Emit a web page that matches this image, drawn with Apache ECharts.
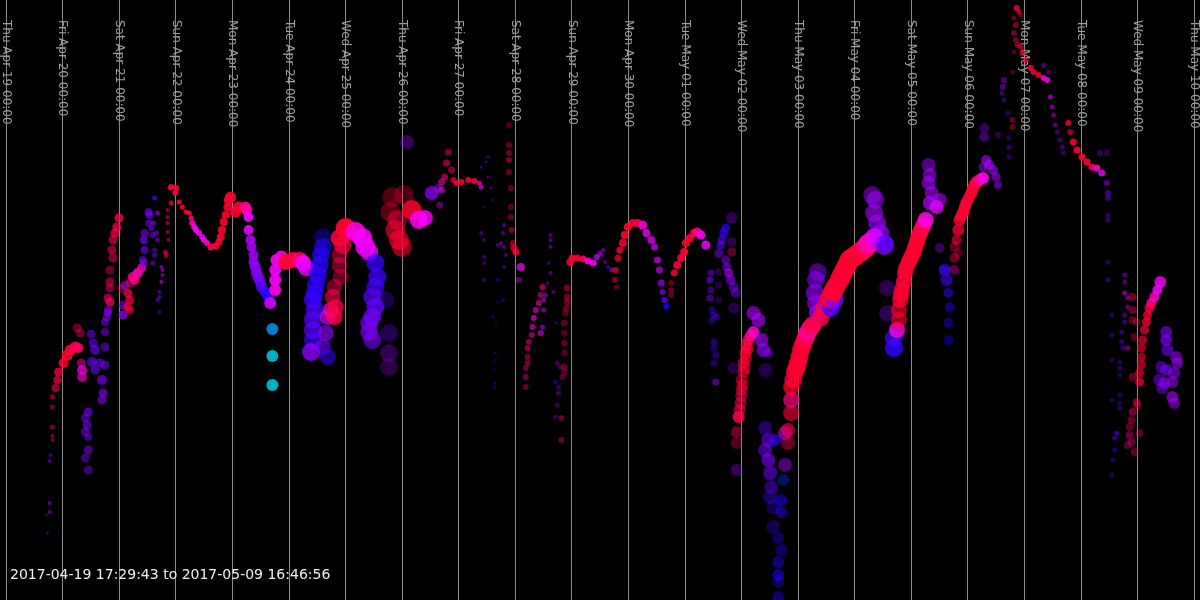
<!DOCTYPE html>
<html>
<head>
<meta charset="utf-8">
<script src="https://cdn.jsdelivr.net/npm/echarts@6/dist/echarts.min.js"></script>
<style>html,body{margin:0;padding:0;background:#000;}#chart{width:1200px;height:600px;}</style>
</head>
<body>
<div id="chart"></div>
<script>
// Each point: [hoursSinceApr19, depth, hue, volume, confidence]
const apr19 = [[17.2,515,285,3,0.35],[17.6,533,280,3,0.4],[18.5,512,290,4,0.45],[18.5,503,290,4,0.45],[18.5,461,270,4,0.5],[18.9,455,270,4,0.5],[19.7,440,345,4,0.45],[19.7,436,345,4,0.45],[19.7,427,345,5,0.45],[19.7,407,345,5,0.45],[19.7,397,345,5,0.5],[21.0,388,350,8,0.6],[21.8,380,350,8,0.7],[22.3,372,352,9,0.75],[24.4,363,355,10,0.85],[26.0,355,355,11,0.9],[27.3,350,355,11,0.9],[29.4,347,350,11,0.9],[30.7,348,345,10,0.85]];
const apr20 = [[30.2,328,345,9,0.4],[31.5,333,345,9,0.4],[31.9,363,330,9,0.5],[32.3,370,320,10,0.7],[32.3,377,325,10,0.65],[33.6,418,270,9,0.5],[34.4,425,272,9,0.55],[33.6,432,272,9,0.5],[34.9,412,268,9,0.6],[34.9,437,270,8,0.45],[34.9,450,272,9,0.5],[33.6,458,272,9,0.45],[34.9,470,272,9,0.45],[36.1,334,262,9,0.55],[37.0,343,262,9,0.6],[37.8,350,265,10,0.6],[36.5,362,262,10,0.65],[39.9,363,268,9,0.55],[37.8,370,265,9,0.6],[40.7,380,272,10,0.65],[42.0,365,270,9,0.5],[42.0,347,268,9,0.5],[42.0,332,268,8,0.5],[42.0,322,270,8,0.55],[43.3,313,272,8,0.6],[41.2,393,275,9,0.6],[40.7,400,275,9,0.55],[42.8,317,272,8,0.5],[43.3,310,275,8,0.55],[43.3,298,345,9,0.55],[44.1,302,345,9,0.7],[44.1,288,345,9,0.45],[44.1,282,345,9,0.5],[44.1,270,345,9,0.4],[45.4,258,348,9,0.5],[44.9,250,348,9,0.55],[45.4,240,350,9,0.6],[46.2,233,350,9,0.7],[47.0,227,350,9,0.75],[47.9,218,350,9,0.8]];
const apr21 = [[49.1,288,350,9,0.45],[49.6,305,275,9,0.55],[49.6,315,280,9,0.7],[50.4,285,275,9,0.5],[51.7,293,350,9,0.7],[52.5,300,352,9,0.7],[51.7,307,352,9,0.65],[52.5,310,352,9,0.55],[52.5,283,345,9,0.5],[53.8,277,340,10,0.85],[54.6,280,338,10,0.8],[55.9,273,330,10,0.85],[57.5,268,332,9,0.8],[58.8,233,268,8,0.6],[58.4,240,268,8,0.65],[58.8,250,268,8,0.6],[58.0,260,270,8,0.55],[58.4,263,272,8,0.55],[60.5,212,268,8,0.6],[60.9,215,268,8,0.6],[60.5,223,265,7,0.6],[61.7,228,265,6,0.6],[62.2,235,270,6,0.55],[62.6,223,285,5,0.55],[63.0,198,255,5,0.7],[63.0,250,265,5,0.5],[63.0,255,270,5,0.5],[62.2,263,272,5,0.5],[63.8,233,272,5,0.55],[64.3,240,275,5,0.5],[64.3,213,280,5,0.6],[65.9,267,280,4,0.6],[66.4,270,290,4,0.6],[66.4,275,290,4,0.55],[65.9,282,300,4,0.6],[65.1,292,270,4,0.55],[65.1,297,272,4,0.55],[64.3,300,268,4,0.55],[65.1,312,260,4,0.45],[68.5,210,350,4,0.55],[68.5,217,350,4,0.55],[68.5,223,350,4,0.55],[68.5,232,350,4,0.55],[68.9,240,345,4,0.5],[67.6,252,345,5,0.55],[68.0,255,345,5,0.6],[69.7,188,352,5,0.7],[70.1,203,352,5,0.7]];
const apr22 = [[70.1,187,355,6,0.9],[71.8,193,355,6,0.9],[72.2,188,355,6,0.9],[73.5,202,355,5,0.9],[74.8,207,355,5,0.9],[76.4,212,355,5,0.9],[77.7,213,350,5,0.9],[78.5,218,345,5,0.9],[79.0,223,330,6,0.9],[79.8,227,320,6,0.9],[80.6,230,315,6,0.9],[81.9,233,310,6,0.9],[83.2,237,305,6,0.9],[84.0,240,310,6,0.9],[85.3,243,330,6,0.9],[86.9,247,350,7,0.9],[89.0,246,355,7,0.9],[90.3,242,355,7,0.9],[91.1,237,355,8,0.9],[91.6,230,355,8,0.9],[92.4,222,355,8,0.9],[93.2,215,355,8,0.9],[94.1,207,355,9,0.9],[94.5,200,355,10,0.9],[95.3,197,355,11,0.9]];
const apr23 = [[97.4,212,355,11,0.9],[98.7,207,355,11,0.9],[101.6,207,340,11,0.9],[102.1,210,330,11,0.9],[102.9,217,310,10,0.9],[102.9,230,305,10,0.9],[103.7,240,290,10,0.85],[104.2,247,285,10,0.85],[105.0,255,282,10,0.85],[105.0,262,280,10,0.85],[105.8,267,278,11,0.85],[106.3,273,275,11,0.85],[107.1,278,270,11,0.85],[107.9,282,265,11,0.85],[108.4,287,255,11,0.85],[110.0,292,245,11,0.9],[111.3,297,240,11,0.9],[112.1,303,300,12,0.9],[114.2,290,320,12,0.9],[114.2,280,315,12,0.9],[114.2,270,312,12,0.9],[114.7,260,315,12,0.9],[116.8,257,320,13,0.9],[113.0,329,195,12,0.9],[113.0,356,183,12,0.9],[113.0,385,183,12,0.9]];
const apr24 = [[118.9,262,355,16,0.95],[121.8,260,352,16,0.95],[124.7,260,345,16,0.9],[126.0,263,315,16,0.9],[127.3,268,305,16,0.85],[134.4,237,240,18,0.35],[134.4,247,238,18,0.6],[133.6,255,240,18,0.7],[133.1,265,240,18,0.75],[132.3,275,242,18,0.8],[131.5,285,240,18,0.75],[131.0,293,242,18,0.75],[130.2,300,245,18,0.75],[131.0,310,250,18,0.75],[130.2,320,255,18,0.7],[130.2,330,258,18,0.7],[130.2,340,250,18,0.65],[129.4,352,275,18,0.8],[134.4,347,265,16,0.6],[136.5,357,245,16,0.55],[135.7,333,275,16,0.65],[136.5,317,300,16,0.65],[137.8,310,330,16,0.7],[139.4,317,350,16,0.8],[139.9,307,352,16,0.75],[138.6,297,350,16,0.6],[139.4,287,350,16,0.45],[141.5,265,350,16,0.45],[141.5,255,350,16,0.45],[142.0,277,348,16,0.4],[141.5,238,355,18,0.85],[142.8,245,352,18,0.7],[144.1,228,355,20,0.95]];
const apr25 = [[148.3,232,320,20,0.9],[151.2,238,315,20,0.85],[152.5,247,310,20,0.85],[154.1,252,305,18,0.8],[156.7,263,245,18,0.75],[157.5,277,248,18,0.75],[156.7,287,250,18,0.7],[155.4,297,255,18,0.7],[156.7,307,260,18,0.75],[155.4,317,265,18,0.7],[154.1,323,268,18,0.65],[154.1,332,270,18,0.65],[155.4,340,268,18,0.6],[160.9,300,255,18,0.3],[162.5,333,265,18,0.3],[162.5,353,280,18,0.3],[162.5,367,285,18,0.25],[163.8,197,355,20,0.3],[168.8,195,355,20,0.3],[163.0,212,355,20,0.35],[165.9,220,352,20,0.45],[165.1,230,355,20,0.6],[166.7,240,355,20,0.65],[168.0,247,355,20,0.55]];
const apr26 = [[170.1,142,280,14,0.35],[172.2,210,355,20,0.85],[175.1,220,318,18,0.85],[177.7,218,315,16,0.8],[180.6,193,275,14,0.75],[183.5,188,280,8,0.55],[184.0,205,320,7,0.35],[184.8,190,320,7,0.5],[184.8,182,330,7,0.55],[186.1,177,340,7,0.55],[186.9,163,345,7,0.55],[187.7,152,350,7,0.5],[189.0,170,350,7,0.5],[189.8,180,355,6,0.7],[191.1,183,355,6,0.85],[193.2,182,355,6,0.85],[196.1,180,355,6,0.85],[198.7,181,350,6,0.85],[200.8,183,340,5,0.8],[201.6,187,300,5,0.75]];
const apr27 = [[204.5,157,270,3,0.45],[203.7,162,270,3,0.4],[201.6,167,270,3,0.4],[204.5,177,268,3,0.45],[205.8,188,265,3,0.4],[206.6,200,262,3,0.4],[202.9,207,262,3,0.35],[201.6,233,275,4,0.45],[202.9,240,275,4,0.4],[202.9,257,270,4,0.45],[202.9,263,270,4,0.4],[202.9,280,270,4,0.45],[211.3,225,275,4,0.5],[210.8,233,280,4,0.5],[210.0,243,280,4,0.55],[208.7,245,275,4,0.45],[211.3,247,280,4,0.5],[212.1,255,275,4,0.45],[211.3,267,265,4,0.45],[208.7,280,255,4,0.4],[210.8,300,250,4,0.4],[208.7,302,255,3,0.35],[206.6,317,250,3,0.35],[207.9,323,245,3,0.35],[207.5,353,240,3,0.4],[207.5,360,240,3,0.35],[207.1,370,245,3,0.35],[207.5,383,245,3,0.4],[207.5,387,245,3,0.4],[213.4,125,350,6,0.3],[213.4,145,350,6,0.4],[213.4,153,350,6,0.45],[213.4,160,350,6,0.5],[213.4,172,350,6,0.4],[214.2,188,350,6,0.35],[214.2,207,350,6,0.35],[214.2,217,350,6,0.4],[214.6,230,350,6,0.45],[215.0,243,352,6,0.55],[215.5,248,355,7,0.7],[216.3,252,355,7,0.8]];
const apr28 = [[218.4,267,310,8,0.75],[217.6,280,305,6,0.4],[220.5,387,345,6,0.4],[220.5,377,330,6,0.4],[220.5,368,340,6,0.4],[221.3,363,345,6,0.45],[221.3,357,345,6,0.45],[221.3,348,340,6,0.5],[221.8,342,340,6,0.5],[223.0,335,335,6,0.55],[223.4,327,325,6,0.6],[223.9,318,320,6,0.65],[224.7,310,325,6,0.6],[226.0,303,330,6,0.6],[226.8,295,335,6,0.55],[227.6,287,340,6,0.6],[226.8,333,315,6,0.55],[227.6,327,305,5,0.5],[228.1,310,300,5,0.5],[228.1,300,305,5,0.5],[228.9,295,295,5,0.45],[229.7,283,280,4,0.4],[230.2,263,270,4,0.4],[231.0,273,290,4,0.45],[231.0,247,285,4,0.5],[231.0,240,285,4,0.5],[231.0,235,285,4,0.45],[232.3,292,290,4,0.4],[233.5,323,265,4,0.3],[233.1,382,270,5,0.3],[233.9,363,290,5,0.3],[235.2,367,300,5,0.3],[234.4,387,280,5,0.35],[234.4,393,290,5,0.35],[233.9,405,280,5,0.35],[233.1,417,275,5,0.3],[235.6,418,340,6,0.4],[235.6,440,345,6,0.4],[236.0,377,330,6,0.3],[236.9,372,345,7,0.3],[236.9,367,345,7,0.35],[236.9,353,345,7,0.3],[236.9,343,348,7,0.35],[236.9,333,348,7,0.3],[236.9,323,350,7,0.35],[237.3,313,350,7,0.3],[237.7,308,350,7,0.35],[238.1,302,350,7,0.4],[238.1,297,350,7,0.4],[238.1,288,350,7,0.45]];
const apr29 = [[239.4,262,355,8,0.85],[240.2,258,355,7,0.9],[242.3,258,355,7,0.9],[244.9,259,345,7,0.9],[247.0,261,325,7,0.9],[249.1,263,315,7,0.85],[250.7,257,300,6,0.75],[252.0,253,290,5,0.6],[253.3,250,285,4,0.55],[252.8,255,280,4,0.5],[254.1,262,275,4,0.5],[255.4,267,270,4,0.45],[257.0,270,300,5,0.5],[258.3,280,350,6,0.45],[259.1,287,350,5,0.4],[258.7,270,355,6,0.7],[259.6,258,355,7,0.7],[260.4,250,355,7,0.8],[261.7,243,355,8,0.85],[262.5,235,355,8,0.9]];
const apr30 = [[263.8,227,355,8,0.9],[265.9,223,355,8,0.9],[268.0,223,352,8,0.9],[270.1,225,320,9,0.85],[271.7,233,310,8,0.8],[273.8,240,305,8,0.75],[275.1,247,300,7,0.75],[276.4,260,300,7,0.7],[277.2,270,295,7,0.65],[278.0,283,285,7,0.65],[278.5,292,275,6,0.65],[279.3,300,262,6,0.7],[280.1,306,235,6,0.85],[282.2,283,350,6,0.4],[282.2,290,350,6,0.4],[282.2,295,350,6,0.35],[283.5,273,355,7,0.85],[284.8,265,355,8,0.9],[286.4,258,355,8,0.9]];
const may01 = [[287.7,252,355,8,0.9],[288.5,243,355,8,0.9],[290.2,238,355,8,0.9],[291.9,233,352,8,0.9],[293.2,232,335,9,0.9],[294.8,235,318,9,0.9],[296.9,245,310,9,0.85],[299.0,273,268,7,0.5],[298.6,280,272,7,0.55],[299.0,290,265,7,0.45],[298.6,298,268,7,0.5],[302.4,272,280,7,0.25],[302.4,285,270,7,0.25],[302.4,300,270,7,0.25],[299.5,310,250,7,0.4],[300.3,315,250,7,0.45],[299.5,320,255,7,0.4],[301.6,317,265,7,0.3],[300.3,342,250,7,0.4],[300.3,348,245,7,0.4],[301.1,355,250,7,0.4],[300.3,363,250,7,0.35],[301.1,382,280,7,0.5],[307.9,218,275,12,0.3],[305.3,228,240,9,0.7],[304.5,233,245,9,0.65],[303.7,240,255,9,0.55],[303.2,245,265,9,0.5],[302.4,253,270,9,0.5],[307.9,242,275,9,0.3],[307.9,252,345,9,0.35],[305.3,260,272,9,0.5],[305.8,267,275,9,0.55],[306.6,273,290,9,0.6],[307.4,280,275,10,0.55],[308.7,287,270,10,0.5],[309.5,293,268,10,0.45],[308.7,308,265,11,0.3],[308.7,368,270,12,0.25]];
const may02 = [[310.0,470,280,12,0.35],[310.0,443,348,12,0.3],[310.0,432,350,12,0.4],[310.8,417,350,12,0.85],[311.2,410,352,12,0.6],[311.6,403,350,12,0.55],[311.9,396,352,12,0.5],[312.1,390,352,12,0.5],[312.5,385,355,12,0.5],[312.1,380,355,12,0.5],[312.9,372,355,12,0.55],[313.3,368,355,12,0.55],[312.9,363,355,12,0.6],[313.9,358,355,12,0.6],[313.7,353,355,12,0.65],[314.6,349,352,12,0.65],[314.2,345,352,12,0.7],[315.0,340,350,12,0.75],[316.0,336,340,12,0.8],[317.1,332,325,12,0.85],[317.1,313,290,14,0.6],[319.2,320,285,14,0.65],[320.5,340,282,14,0.65],[321.3,350,280,14,0.6],[322.1,370,265,14,0.3],[323.4,353,280,10,0.4],[322.1,428,255,14,0.4],[323.4,440,265,14,0.55],[326.3,440,245,12,0.6],[322.1,450,265,14,0.55],[323.4,460,270,14,0.6],[324.2,473,265,14,0.55],[324.7,487,255,14,0.45],[324.2,497,250,14,0.35],[325.5,507,245,14,0.3],[325.5,527,250,14,0.3],[327.6,538,240,12,0.35],[328.9,550,238,12,0.4],[327.6,562,238,12,0.45],[327.6,575,236,12,0.55],[327.6,582,238,12,0.35],[327.6,597,240,12,0.4],[329.7,480,215,12,0.4],[328.9,500,235,12,0.5],[328.9,512,240,12,0.45],[330.5,433,300,14,0.55],[330.5,465,285,14,0.45],[331.8,443,350,14,0.4],[331.8,430,352,14,0.6],[333.1,413,352,16,0.6],[333.1,400,340,16,0.7],[333.1,387,355,16,0.75]];
const may03 = [[334.0,380,355,18,0.75],[334.7,372,355,18,0.8],[335.3,368,355,18,0.8],[336.0,363,355,18,0.85],[336.6,357,355,18,0.85],[337.3,350,355,18,0.85],[338.0,345,355,18,0.85],[338.9,340,352,18,0.85],[339.5,336,345,18,0.85],[340.2,332,335,18,0.85],[341.2,328,340,18,0.85],[342.3,325,350,18,0.85],[343.6,280,275,18,0.55],[344.4,272,275,18,0.5],[343.1,293,278,18,0.6],[343.6,303,280,18,0.6],[344.4,313,285,18,0.7],[345.5,318,350,18,0.8],[347.5,308,352,20,0.8],[349.9,308,250,18,0.8],[349.5,298,355,20,0.85],[351.5,300,270,18,0.75],[350.8,292,355,20,0.85],[351.9,287,355,20,0.85],[353.6,280,355,20,0.85],[354.6,275,355,20,0.85],[355.7,270,355,20,0.85],[356.8,265,355,20,0.9],[357.8,260,355,20,0.9]];
const may04 = [[358.9,258,355,20,0.9],[359.9,257,355,20,0.9],[361.2,254,355,20,0.9],[362.5,252,355,20,0.9],[363.6,250,352,20,0.9],[364.6,248,350,20,0.9],[365.4,245,340,20,0.9],[366.2,243,330,20,0.9],[367.5,195,280,18,0.5],[368.8,200,282,18,0.55],[368.3,213,285,18,0.6],[369.6,223,280,18,0.65],[370.9,233,275,18,0.7],[369.6,240,270,16,0.6],[368.3,237,305,18,0.85],[372.5,245,275,20,0.75],[373.0,243,255,16,0.7],[373.8,288,275,16,0.3],[373.8,313,280,16,0.3],[376.7,348,240,18,0.85],[376.7,338,250,18,0.7],[378.0,330,320,16,0.8],[378.8,320,355,16,0.6],[378.8,310,355,16,0.65],[379.3,300,355,16,0.75],[379.7,295,355,16,0.8],[380.1,290,355,16,0.8],[380.9,282,355,16,0.85],[381.4,273,355,16,0.85],[381.9,268,355,16,0.85],[383.0,262,355,16,0.9]];
const may05 = [[384.0,257,355,16,0.9],[385.1,252,355,16,0.9],[385.7,247,355,16,0.9],[386.4,242,355,16,0.9],[387.0,238,355,16,0.9],[387.7,233,355,16,0.9],[388.5,229,352,16,0.9],[389.3,225,350,16,0.9],[390.2,220,320,16,0.9],[391.4,165,282,14,0.5],[391.9,175,285,14,0.55],[391.4,183,283,14,0.6],[392.7,193,285,14,0.6],[391.9,203,290,14,0.7],[396.1,200,285,14,0.6],[394.8,207,305,14,0.8],[396.1,248,280,10,0.35],[398.2,270,245,12,0.75],[399.0,280,250,12,0.6],[399.8,293,245,10,0.5],[400.3,307,240,10,0.45],[399.8,323,240,10,0.4],[399.8,340,235,10,0.4],[402.4,270,330,10,0.35],[402.4,258,350,10,0.4],[402.4,247,350,10,0.35],[404.0,253,345,10,0.3],[403.2,240,352,10,0.6],[404.0,230,355,12,0.75],[404.5,220,355,12,0.8],[405.3,216,355,12,0.85],[406.1,212,355,12,0.85],[406.8,207,355,12,0.9],[407.4,203,355,12,0.9],[408.4,198,355,12,0.9],[409.5,193,355,12,0.9],[410.2,189,355,12,0.9],[410.8,185,355,12,0.9],[411.8,182,350,12,0.9],[412.9,180,340,12,0.9],[414.5,178,318,12,0.9]];
const may06 = [[415.0,137,280,10,0.4],[415.0,128,275,10,0.35],[414.5,167,285,9,0.5],[415.8,160,285,10,0.65],[417.1,165,285,10,0.65],[418.7,170,282,10,0.6],[420.0,177,280,9,0.6],[420.8,185,278,8,0.55],[420.8,135,280,6,0.3],[422.9,87,280,6,0.5],[423.4,80,285,6,0.45],[422.5,93,275,5,0.4],[423.4,100,270,5,0.35],[425.0,113,260,5,0.35],[425.5,138,255,5,0.4],[425.5,147,255,5,0.4],[425.5,157,260,5,0.35],[427.1,120,350,6,0.4],[427.1,127,350,6,0.4],[427.1,72,350,5,0.3],[427.6,52,345,5,0.3],[427.6,33,350,6,0.45],[427.6,18,350,5,0.4],[428.4,25,352,6,0.5],[428.4,40,350,6,0.45],[428.8,8,355,6,0.8],[429.7,12,355,5,0.6],[429.2,45,352,6,0.5],[430.5,15,352,5,0.4],[430.5,47,355,6,0.55]];
const may07 = [[431.3,53,355,6,0.7],[432.6,60,355,6,0.75],[434.7,68,355,6,0.85],[436.0,72,355,6,0.85],[438.1,75,355,6,0.85],[440.2,65,280,5,0.4],[440.2,78,320,6,0.85],[441.8,80,315,6,0.8],[442.3,72,280,5,0.4],[443.1,97,305,5,0.6],[443.9,107,300,5,0.5],[444.4,115,295,5,0.45],[445.2,125,285,5,0.45],[446.0,132,280,5,0.4],[447.3,140,280,5,0.4],[448.1,147,275,5,0.4],[448.6,153,270,5,0.35],[450.7,123,355,6,0.8],[451.5,132,352,6,0.6],[452.8,142,355,7,0.85]];
const may08 = [[454.4,150,355,7,0.9],[456.5,157,355,7,0.9],[458.6,162,355,7,0.9],[460.7,167,345,7,0.85],[462.8,168,320,7,0.85],[464.1,153,280,6,0.35],[464.9,173,310,7,0.8],[467.0,153,280,6,0.3],[467.0,183,275,6,0.5],[467.5,193,270,6,0.5],[467.5,198,265,6,0.45],[467.5,215,270,5,0.4],[467.5,220,270,5,0.4],[467.5,262,268,5,0.35],[467.5,280,268,5,0.35],[469.1,315,265,5,0.35],[469.1,335,265,5,0.35],[469.1,360,265,5,0.3],[469.1,400,265,5,0.3],[469.1,475,270,5,0.3],[469.6,460,250,5,0.4],[470.4,438,255,5,0.5],[470.4,450,250,5,0.45],[471.2,433,255,5,0.55],[472.5,362,265,5,0.35],[472.5,368,260,5,0.35],[472.5,375,260,5,0.35],[472.5,395,260,5,0.35],[472.5,403,255,5,0.35],[472.5,408,260,5,0.35],[473.3,332,265,5,0.45],[473.3,342,260,5,0.4],[473.8,348,265,5,0.45],[474.6,275,290,5,0.4],[474.6,282,290,5,0.4],[474.6,293,310,5,0.5],[474.6,315,275,5,0.4],[474.6,322,270,5,0.4],[475.9,298,300,5,0.45],[475.9,307,300,5,0.4],[475.9,348,310,5,0.4],[475.9,445,335,8,0.3],[476.7,427,345,8,0.35],[476.7,435,340,8,0.4],[477.5,420,345,8,0.4],[477.5,442,340,8,0.4],[478.0,297,350,8,0.45],[478.0,310,350,8,0.4],[478.0,320,350,8,0.35],[478.8,337,350,8,0.35],[478.0,377,350,8,0.4],[478.0,412,345,8,0.45],[478.8,452,340,8,0.35],[479.6,322,350,8,0.35],[479.6,402,350,8,0.45],[480.1,405,350,8,0.4]];
const may09 = [[480.9,433,345,8,0.35],[480.9,382,355,9,0.7],[480.9,373,355,9,0.65],[481.7,365,355,9,0.6],[481.7,357,355,9,0.6],[481.7,348,355,9,0.6],[482.2,340,355,9,0.65],[483.0,330,355,9,0.7],[483.8,322,355,9,0.75],[484.3,315,355,9,0.75],[485.1,308,352,10,0.8],[485.9,303,340,10,0.85],[487.2,297,325,10,0.85],[488.5,290,315,10,0.85],[489.7,282,310,12,0.8],[489.3,380,268,12,0.5],[490.1,367,265,12,0.5],[490.5,388,272,12,0.5],[491.4,383,275,12,0.55],[492.2,332,272,12,0.6],[492.2,340,270,12,0.65],[492.7,350,268,12,0.6],[492.2,370,270,12,0.6],[494.8,382,278,12,0.55],[494.8,397,285,12,0.6],[495.6,373,275,12,0.55],[495.6,403,280,12,0.5],[496.4,357,282,12,0.55],[496.9,363,280,12,0.55]];

const DAY_NAMES = ['Sun','Mon','Tue','Wed','Thu','Fri','Sat'];
const MONTH_NAMES = ['Jan','Feb','Mar','Apr','May','Jun','Jul','Aug','Sep','Oct','Nov','Dec'];
const RANGE_START = '2017-04-19 17:29:43';
const RANGE_END = '2017-05-09 16:46:56';
// tick labels in the reference use weekday names where Apr 19 is a Thursday
const LABEL_BASE_UTC = Date.UTC(2018, 3, 19, 0, 0, 0);
const HOURS_SPAN = 504;

const points = [].concat(apr19, apr20, apr21, apr22, apr23, apr24, apr25, apr26, apr27, apr28, apr29, apr30, may01, may02, may03, may04, may05, may06, may07, may08, may09);

function pad(n){ return (n < 10 ? '0' : '') + n; }
function fmtTick(h){
  const d = new Date(LABEL_BASE_UTC + h * 3600000);
  return DAY_NAMES[d.getUTCDay()] + ' ' + MONTH_NAMES[d.getUTCMonth()] + ' ' + pad(d.getUTCDate()) + ' ' + pad(d.getUTCHours()) + ':' + pad(d.getUTCMinutes());
}

const chart = echarts.init(document.getElementById('chart'), null, {renderer: 'canvas'});
chart.setOption({
  backgroundColor: '#000',
  animation: false,
  title: {
    text: RANGE_START + ' to ' + RANGE_END,
    left: 5, top: 563,
    textStyle: {color: '#f0f0f0', fontSize: 14, fontWeight: 'normal', fontFamily: 'DejaVu Sans'}
  },
  grid: {left: 0, right: 3, top: 0, bottom: 0, containLabel: false},
  xAxis: {
    type: 'value', min: 0, max: HOURS_SPAN, interval: 24, position: 'top',
    axisLine: {show: false}, axisTick: {show: false},
    splitLine: {show: true, showMinLine: true, showMaxLine: true, lineStyle: {color: '#8a8a8a', width: 1}},
    axisLabel: {
      inside: true, rotate: -90, margin: 20, color: '#a0a0a0', fontSize: 12, fontFamily: 'DejaVu Sans',
      showMinLabel: true, showMaxLabel: true, formatter: fmtTick
    }
  },
  yAxis: {type: 'value', min: 0, max: 600, inverse: true, show: false, splitLine: {show: false}},
  visualMap: [
    {type: 'continuous', show: false, seriesIndex: 0, dimension: 2, min: 180, max: 360,
     inRange: {color: ['#00d0d0', '#0000ff', '#8000ff', '#ff00ff', '#ff0018']}},
    {type: 'continuous', show: false, seriesIndex: 0, dimension: 3, min: 0, max: 30,
     inRange: {symbolSize: [0, 30]}},
    {type: 'continuous', show: false, seriesIndex: 0, dimension: 4, min: 0, max: 1,
     inRange: {opacity: [0, 1]}}
  ],
  series: [{
    type: 'scatter',
    data: points,
    symbol: 'circle',
    itemStyle: {borderWidth: 0}
  }]
});
</script>
</body>
</html>
